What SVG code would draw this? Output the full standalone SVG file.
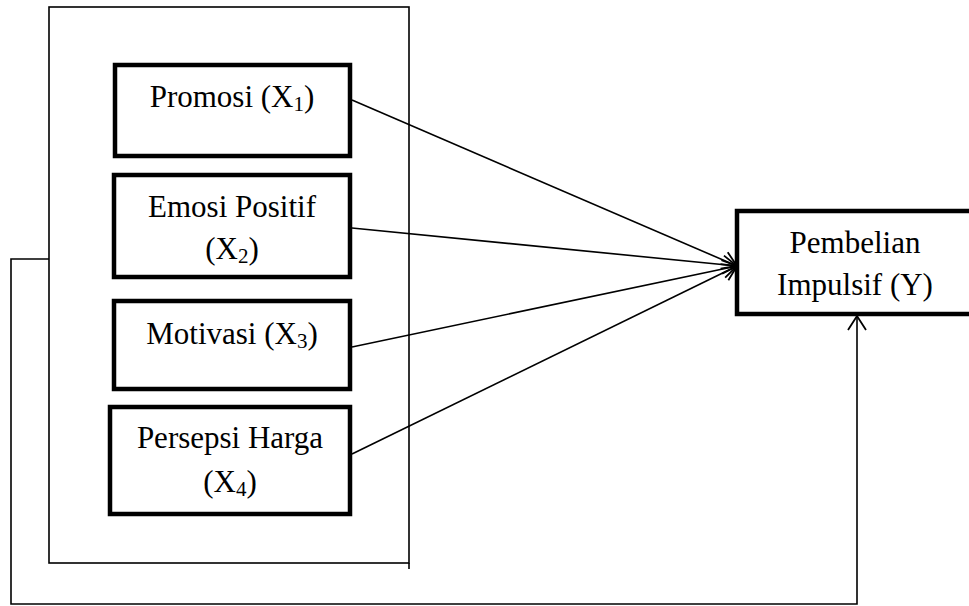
<svg xmlns="http://www.w3.org/2000/svg" width="969" height="606" viewBox="0 0 969 606">
<style>
.box{fill:#fff;stroke:#000;stroke-width:4.5}
.frame{fill:none;stroke:#000;stroke-width:1.6}
.ln{fill:none;stroke:#000;stroke-width:1.6}
text{font-family:"Liberation Serif","Times New Roman",serif;font-size:31px;fill:#000;text-anchor:middle}
.sub{font-size:21px}
</style>
<defs>
<marker id="ah" markerUnits="userSpaceOnUse" viewBox="0 0 16 20" refX="15" refY="10" markerWidth="16" markerHeight="20" orient="auto">
<path d="M1,1 L15,10 L1,19" fill="none" stroke="#000" stroke-width="1.8"/>
</marker>
</defs>
<rect width="969" height="606" fill="#fff"/>
<g id="frame">
<rect class="frame" x="49" y="7" width="360" height="556"/>
<line class="frame" x1="409" y1="563" x2="409" y2="569"/>
</g>
<g id="connectors">
<line class="ln" x1="352" y1="100" x2="737" y2="266" marker-end="url(#ah)"/>
<line class="ln" x1="352" y1="228" x2="737" y2="266" marker-end="url(#ah)"/>
<line class="ln" x1="352" y1="347" x2="737" y2="266" marker-end="url(#ah)"/>
<line class="ln" x1="352" y1="454" x2="737" y2="266" marker-end="url(#ah)"/>
<polyline class="ln" points="49,259 11,259 11,604 857,604 857,316" marker-end="url(#ah)"/>
</g>
<g id="promosi">
<rect class="box" x="115" y="65" width="235" height="91"/>
<text x="232" y="107">Promosi (X<tspan class="sub" dy="4">1</tspan><tspan dy="-4">)</tspan></text>
</g>
<g id="emosi">
<rect class="box" x="114" y="175" width="236" height="102"/>
<text x="232" y="217">Emosi Positif</text>
<text x="232" y="259">(X<tspan class="sub" dy="4">2</tspan><tspan dy="-4">)</tspan></text>
</g>
<g id="motivasi">
<rect class="box" x="114" y="301" width="236" height="88"/>
<text x="232" y="344">Motivasi (X<tspan class="sub" dy="4">3</tspan><tspan dy="-4">)</tspan></text>
</g>
<g id="persepsi">
<rect class="box" x="110" y="407" width="240" height="107"/>
<text x="230" y="448">Persepsi Harga</text>
<text x="230" y="492">(X<tspan class="sub" dy="4">4</tspan><tspan dy="-4">)</tspan></text>
</g>
<g id="pembelian">
<rect class="box" x="737" y="211" width="245" height="103"/>
<text x="855" y="253">Pembelian</text>
<text x="855" y="295">Impulsif (Y)</text>
</g>
</svg>
